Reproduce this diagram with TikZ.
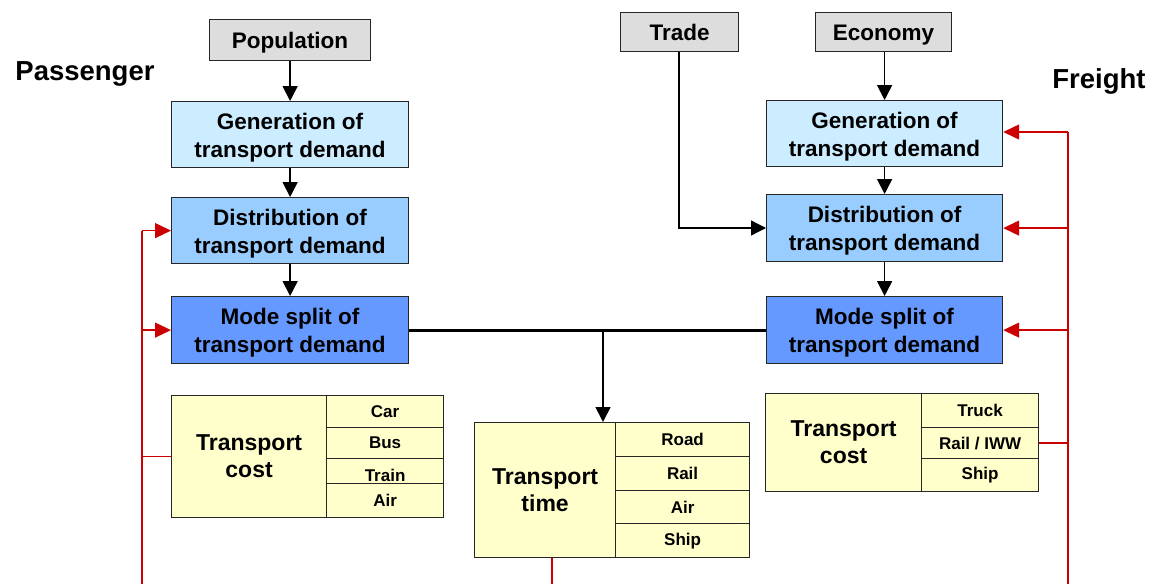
\documentclass[tikz,border=0pt]{standalone}
\usepackage{fontspec}
\setmainfont{Liberation Sans}
\usetikzlibrary{arrows.meta}
\definecolor{greybox}{HTML}{DDDDDD}
\definecolor{genc}{HTML}{CCECFF}
\definecolor{distc}{HTML}{99CCFF}
\definecolor{modec}{HTML}{6699FF}
\definecolor{tabc}{HTML}{FFFFCC}
\definecolor{fbred}{HTML}{CC0000}
\newcommand{\boxtext}[1]{\raisebox{-3pt}[\height][\depth]{\begin{tabular}{@{}c@{}}#1\end{tabular}}}
\tikzset{
  box/.style={draw=black!85, line width=1.2pt, inner sep=0pt, anchor=north west, align=center,
    font=\bfseries\fontsize{22.5}{28}\selectfont},
  cell/.style={draw=black!85, line width=1.2pt, inner sep=0pt, anchor=north west, align=center,
    fill=tabc, font=\bfseries\fontsize{17}{20}\selectfont},
  bigcell/.style={cell, font=\bfseries\fontsize{23}{27}\selectfont},
  flow/.style={draw=black, line width=1.7pt, -{Triangle[length=15pt,width=15pt]}},
  thickline/.style={draw=black, line width=3pt},
  fb/.style={draw=fbred, line width=1.3pt},
  fbarrow/.style={fb, -{Triangle[length=16pt,width=15pt]}},
  sidelabel/.style={font=\bfseries\fontsize{27.5}{30}\selectfont}
}
\begin{document}
\begin{tikzpicture}[x=1pt,y=-1pt]
\useasboundingbox (0,0) rectangle (1159,584);
% labels
\node[sidelabel] (passenger) at (85,74) {Passenger};
\node[sidelabel] (freight) at (1099,81) {Freight};
% passenger column
\node[box, fill=greybox, minimum width=161pt, minimum height=41pt] (pop) at (209,19) {\boxtext{Population}};
\node[box, fill=genc, minimum width=237pt, minimum height=66pt] (pgen) at (171,101) {\boxtext{Generation of\\transport demand}};
\node[box, fill=distc, minimum width=237pt, minimum height=66pt] (pdist) at (171,197) {\boxtext{Distribution of\\transport demand}};
\node[box, fill=modec, minimum width=237pt, minimum height=67pt] (pmode) at (171,296) {\boxtext{Mode split of\\transport demand}};
% freight column
\node[box, fill=greybox, minimum width=118pt, minimum height=39pt] (trade) at (620,12) {\boxtext{Trade}};
\node[box, fill=greybox, minimum width=136pt, minimum height=39pt] (econ) at (815,12) {\boxtext{Economy}};
\node[box, fill=genc, minimum width=236pt, minimum height=66pt] (fgen) at (766,100) {\boxtext{Generation of\\transport demand}};
\node[box, fill=distc, minimum width=236pt, minimum height=67pt] (fdist) at (766,194) {\boxtext{Distribution of\\transport demand}};
\node[box, fill=modec, minimum width=236pt, minimum height=67pt] (fmode) at (766,296) {\boxtext{Mode split of\\transport demand}};
% passenger cost table
\node[bigcell, minimum width=155pt, minimum height=122pt] (pcost) at (171,395) {Transport\\cost};
\node[cell, minimum width=117pt, minimum height=32pt] (pcar) at (326,395) {Car};
\node[cell, minimum width=117pt, minimum height=31pt] (pbus) at (326,427) {Bus};
\node[cell, minimum width=117pt, minimum height=25pt] (ptrain) at (326,458) {\raisebox{-4pt}[\height][\depth]{Train}};
\node[cell, minimum width=117pt, minimum height=34pt] (pair) at (326,483) {Air};
% time table
\node[bigcell, minimum width=141pt, minimum height=135pt] (ttime) at (474,422) {Transport\\time};
\node[cell, minimum width=134pt, minimum height=34pt] (troad) at (615,422) {Road};
\node[cell, minimum width=134pt, minimum height=34pt] (trail) at (615,456) {Rail};
\node[cell, minimum width=134pt, minimum height=33pt] (tair) at (615,490) {Air};
\node[cell, minimum width=134pt, minimum height=34pt] (tship) at (615,523) {Ship};
% freight cost table
\node[bigcell, minimum width=156pt, minimum height=98pt] (fcost) at (765,393) {Transport\\cost};
\node[cell, minimum width=117pt, minimum height=34pt] (ftruck) at (921,393) {Truck};
\node[cell, minimum width=117pt, minimum height=31pt] (frail) at (921,427) {Rail / IWW};
\node[cell, minimum width=117pt, minimum height=33pt] (fship) at (921,458) {Ship};
% coordinates
\coordinate (pl) at (142,584);
\coordinate (fr) at (1068,584);
\coordinate (junc) at (603,330);
\coordinate (tradecorner) at (679,228);
\coordinate (tbottom) at (552,584);
% black flow arrows
\draw[flow] (pop.south) -- (pgen.north);
\draw[flow] (pgen.south) -- (pdist.north);
\draw[flow] (pdist.south) -- (pmode.north);
\draw[flow] (econ.south -| fgen.north) -- (fgen.north);
\draw[flow] (fgen.south) -- (fdist.north);
\draw[flow] (fdist.south) -- (fmode.north);
\draw[flow, line width=1.3pt] (trade.south -| tradecorner) -- (tradecorner) -- (tradecorner -| fdist.west);
\draw[thickline] (pmode.east |- junc) -- (fmode.west |- junc);
\draw[flow] (junc) -- (junc |- ttime.north);
% red feedback
\draw[fb] (pl) -- (pl |- pdist.west);
\draw[fbarrow] (pl |- pdist.west) -- (pdist.west);
\draw[fbarrow] (pl |- pmode.west) -- (pmode.west);
\draw[fb] (pcost.west) -- (pcost.west -| pl);
\draw[fb] (fr) -- (fr |- 0,132);
\draw[fbarrow] (fr |- 0,132) -- (fgen.east |- 0,132);
\draw[fbarrow] (fr |- fdist.east) -- (fdist.east);
\draw[fbarrow] (fr |- fmode.east) -- (fmode.east);
\draw[fb] (frail.east) -- (frail.east -| fr);
\draw[fb] (ttime.south -| tbottom) -- (tbottom);
\end{tikzpicture}
\end{document}
